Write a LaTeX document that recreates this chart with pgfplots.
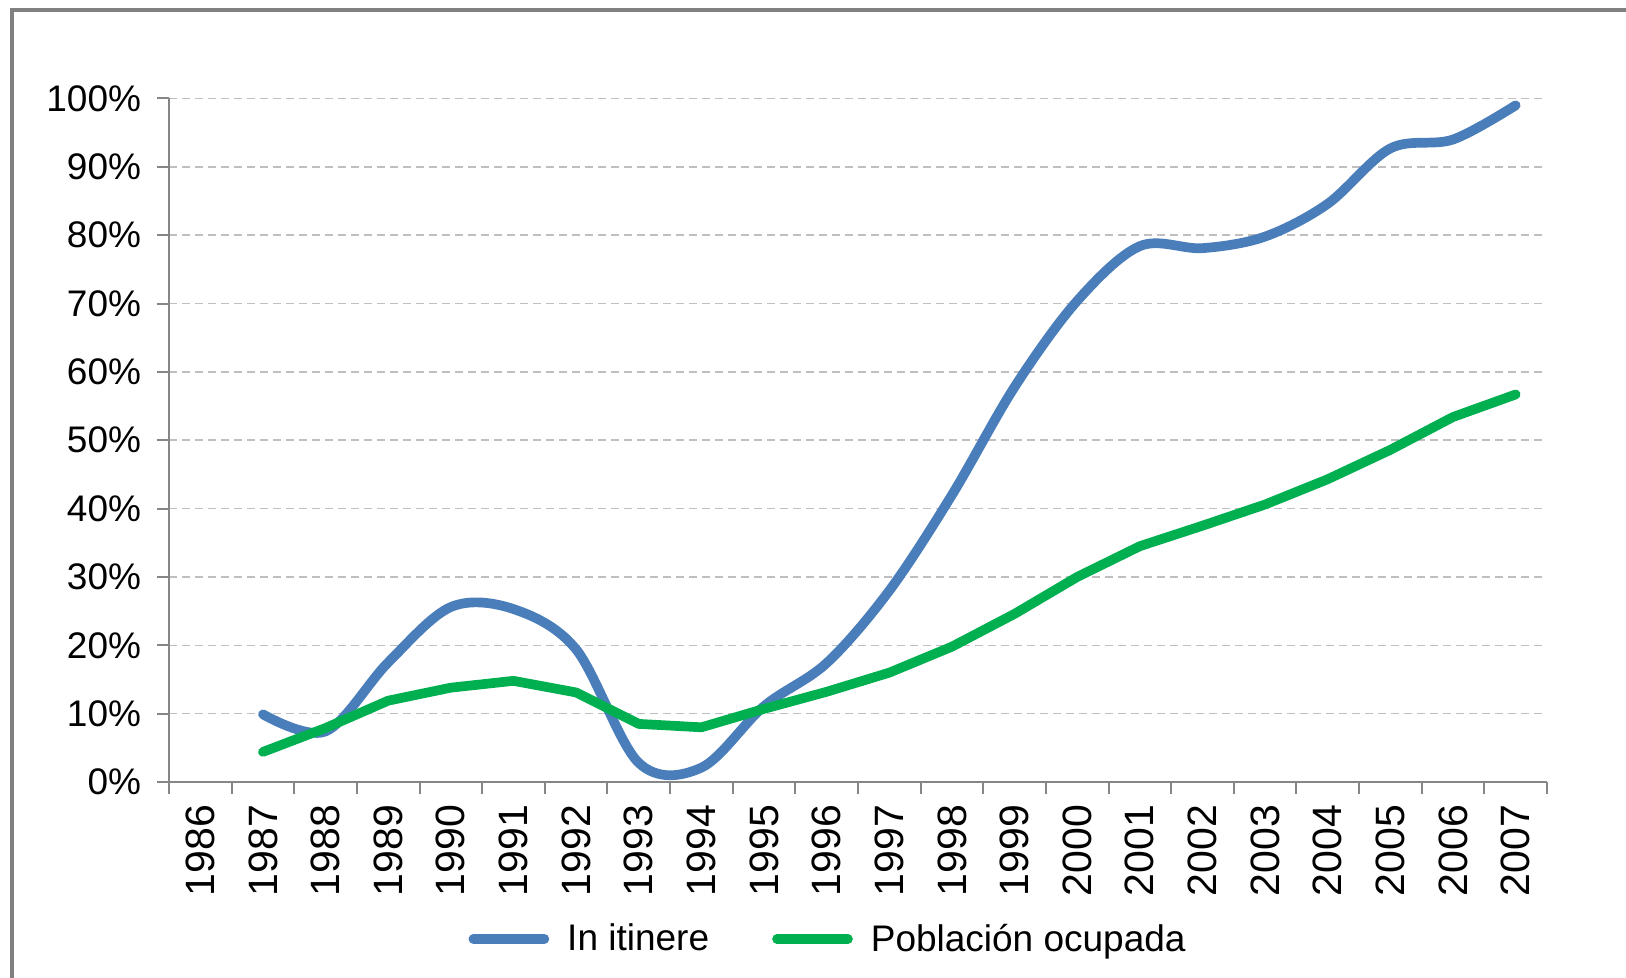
\documentclass[border=0pt]{standalone}
\usepackage{fontspec}
\setmainfont{Liberation Sans}
\usepackage{pgfplots}
\pgfplotsset{compat=1.18}
\definecolor{itin}{HTML}{4A7EBB}
\definecolor{pobl}{HTML}{00B050}
\definecolor{axgray}{HTML}{868686}
\definecolor{gridgray}{HTML}{BFBFBF}
\definecolor{framegray}{HTML}{808080}
\begin{document}
\begin{tikzpicture}
\useasboundingbox (0,0) rectangle (813pt,489pt);
\draw[framegray, line width=1.75pt] (6pt,-3pt) -- (6pt,484pt) -- (820pt,484pt);
\begin{axis}[
  at={(84.5pt,98pt)}, anchor=south west,
  scale only axis, width=689pt, height=341.75pt,
  xmin=-0.5, xmax=21.5, ymin=0, ymax=100,
  axis lines=left, axis line style={axgray, line width=1pt, -},
  tick align=outside, major tick length=6pt, minor tick length=6pt,
  tick style={axgray, line width=1pt},
  every major x tick/.append style={draw=none},
  xtick={0,...,21},
  xticklabels={1986,1987,1988,1989,1990,1991,1992,1993,1994,1995,1996,1997,1998,1999,2000,2001,2002,2003,2004,2005,2006,2007},
  minor xtick={-0.5,0.5,...,21.5},
  ytick={0,10,...,100},
  yticklabels={0\%,10\%,20\%,30\%,40\%,50\%,60\%,70\%,80\%,90\%,100\%},
  ymajorgrids,
  grid style={gridgray, line width=0.75pt, dash pattern=on 4pt off 2.5pt},
  tick label style={font=\fontsize{18.5}{22}\selectfont, text=black},
  xticklabel style={rotate=90, anchor=east, inner xsep=5.2pt, font=\fontsize{20.5}{24}\selectfont},
  yticklabel style={anchor=east, inner xsep=7.8pt},
  legend style={at={(0.479,-0.2297)}, anchor=center, draw=none, fill=none,
    legend columns=2, font=\fontsize{18.5}{22}\selectfont,
    /tikz/every odd column/.append style={column sep=7pt},
    /tikz/every even column/.append style={column sep=29.5pt}},
  legend image code/.code={\draw[#1, line cap=round] (0pt,0pt) -- (35.5pt,0pt);},
  clip=false,
]
\addplot[itin, line width=4.85pt, smooth, tension=0.55, line cap=round] coordinates {
(1,9.9) (2,7.4) (3,17.5) (4,25.6) (5,25.3) (6,19.4) (7,2.8) (8,2.1) (9,11.1) (10,17.4) (11,28.0) (12,42.0) (13,57.8) (14,70.4) (15,78.4) (16,78.1) (17,79.8) (18,84.6) (19,92.7) (20,94.0) (21,99.0)
};
\addlegendentry{In itinere}
\addplot[pobl, line width=4.85pt, line join=round, line cap=round] coordinates {
(1,4.4) (2,7.9) (3,11.9) (4,13.8) (5,14.8) (6,13.1) (7,8.5) (8,8.0) (9,10.7) (10,13.2) (11,16.0) (12,19.8) (13,24.6) (14,30.0) (15,34.5) (16,37.5) (17,40.6) (18,44.3) (19,48.6) (20,53.4) (21,56.7)
};
\addlegendentry{Población ocupada}
\end{axis}
\end{tikzpicture}
\end{document}
